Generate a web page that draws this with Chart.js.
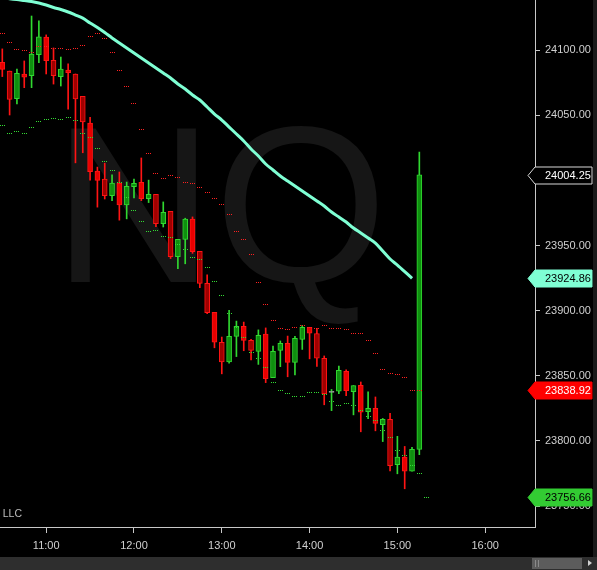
<!DOCTYPE html>
<html lang="en">
<head>
<meta charset="UTF-8">
<title>NQ 5 Minute</title>
<script src="https://cdn.jsdelivr.net/npm/chart.js@4.4.0/dist/chart.umd.min.js"></script>
<style>
    html, body { margin: 0; padding: 0; background: #000; overflow: hidden; }
    #wrap { position: relative; width: 597px; height: 570px; background: #000; }
    #edge { position: absolute; left: 593px; top: 0; width: 4px; height: 557px; background: #1a1a1a; }
    #scroll { position: absolute; left: 0; top: 557px; width: 597px; height: 13px; background: #2e2e2e; }
    #thumb { position: absolute; left: 532px; top: 1px; width: 50px; height: 11px; background: #5c5c5c; }
    #thumb i { position: absolute; top: 2px; width: 1px; height: 7px; background: #8a8a8a; }
    #arrow { position: absolute; left: 588px; top: 3px; width: 0; height: 0;
             border-left: 4px solid #cfcfcf; border-top: 3.5px solid transparent; border-bottom: 3.5px solid transparent; }
</style>
</head>
<body>
<div id="wrap">
    <canvas id="nq" width="597" height="570"></canvas>
    <div id="edge"></div>
    <div id="scroll"><div id="thumb"><i style="left:3px"></i><i style="left:6px"></i></div><div id="arrow"></div></div>
</div>

<script>
// 5 minute bars, first bar at 10:30
const firstBar = '10:30';
const barMinutes = 5;
const hourLabels = ['11:00', '12:00', '13:00', '14:00', '15:00', '16:00'];
const priceTicks = [23750, 23800, 23850, 23900, 23950, 24000, 24050, 24100];

const opens = [24090.75, 24084, 24062.75, 24081.75, 24080.5, 24096.5, 24110, 24092.25, 24079.75, 24084.75,
    24081.75, 24064.5, 24044, 24007.25, 24001, 23988.25, 23998, 23981.25, 23995.25, 23998.5,
    23986, 23989.25, 23966.75, 23976.25, 23941.5, 23954.75, 23970.25, 23945.5, 23921, 23898.75,
    23875.75, 23860.75, 23880.25, 23888, 23877.25, 23868.75, 23882, 23848.5, 23869.5, 23875,
    23860.25, 23878, 23887.25, 23882.5, 23863.5, 23837.25, 23838.25, 23853.5, 23837.75, 23842.75,
    23822.5, 23825, 23812.5, 23816.5, 23781.75, 23787.5, 23776.75, 23793.5];
const highs = [24101, 24084, 24085.5, 24091.75, 24126.25, 24122.5, 24111.75, 24101.75, 24094.75, 24089.5,
    24081.75, 24064.5, 24048.5, 24010.25, 24013.25, 24004.25, 24006.5, 23998.75, 24001, 24017.25,
    24000.25, 23989.25, 23983.5, 23976.25, 23954.75, 23971, 23972, 23945.5, 23927.5, 23898.75,
    23879.75, 23900.25, 23892, 23891.25, 23878, 23885.25, 23886.75, 23872.75, 23876.75, 23880.5,
    23880.25, 23888.75, 23887.25, 23886.5, 23865.25, 23839.5, 23857.5, 23854.5, 23842.5, 23845.25,
    23837.75, 23833.75, 23817.25, 23821.25, 23803.5, 23795.75, 23795, 24021.75];
const lows = [24079.75, 24050.25, 24058.75, 24071.25, 24071.25, 24090.5, 24081.75, 24074, 24072.5, 24054.75,
    24013.5, 24021.25, 24000.25, 23979.5, 23985.75, 23984.5, 23969.5, 23970.5, 23986.5, 23984.5,
    23983, 23964.5, 23964.25, 23940, 23932.25, 23936, 23944, 23917.75, 23897.75, 23871.5,
    23851.5, 23859.75, 23864.75, 23869.25, 23862.25, 23858.75, 23844.75, 23848.5, 23857, 23849.25,
    23850.75, 23870.25, 23863, 23857.25, 23827.75, 23823.25, 23836.25, 23834.75, 23820, 23807,
    23817, 23807.75, 23799.5, 23777, 23774.75, 23763.25, 23776.75, 23789.5];
const closes = [24085.25, 24062.25, 24082.25, 24079.25, 24097, 24110.25, 24092, 24080.5, 24085.5, 24082.75,
    24062.5, 24045, 24006.75, 24000, 23988.25, 23998, 23981.25, 23995.5, 23997.75, 23986,
    23989.25, 23966.75, 23975.5, 23941.5, 23954.75, 23970.25, 23945.25, 23921, 23898.5, 23875.75,
    23860.75, 23880.25, 23888, 23877.25, 23869.5, 23881, 23847.75, 23868.75, 23875, 23860.25,
    23878.75, 23887.25, 23882.75, 23863.5, 23836.25, 23837.25, 23854.25, 23838.5, 23842.5, 23822,
    23825, 23813.5, 23816.5, 23781, 23787.5, 23776.75, 23793.5, 24004.25];

// moving average (aqua line)
const maValues = [24140.3, 24139.55, 24138.85, 24138.15, 24137.4, 24136.25, 24134.7, 24132.8, 24131.25, 24129.35,
    24127, 24124.6, 24120.9, 24117.45, 24113.6, 24109.4, 24105.5, 24101.7, 24097.85, 24094,
    24090.2, 24086.35, 24082.5, 24078.65, 24074.05, 24070.2, 24065.6, 24061.75, 24056.4, 24051,
    24046.4, 24041, 24035.65, 24030.3, 24024.15, 24018.75, 24012.6, 24008, 24003.4, 23999.55,
    23995.7, 23991.9, 23988.05, 23984.2, 23980.35, 23975.75, 23971.9, 23968.1, 23963.45, 23959.65,
    23955.8, 23951.95, 23945.8, 23939.65, 23935.05, 23930.05, 23924.86];

// upper band (red dots)
const upperBand = [24113, 24106.05, 24100.7, 24099.9, 24098.4, 24103, 24103.2, 24101.45, 24101.45, 24100.7,
    24101.45, 24103.75, 24110.65, 24113, 24109.15, 24098.6, 24084.8, 24071.75, 24059.25, 24039.25,
    24020.85, 24005.5, 24001.65, 24003.95, 24002.4, 23998.55, 23997.8, 23994.75, 23990.9, 23986.5,
    23981.65, 23974, 23960.95, 23954.8, 23943.3, 23921.8, 23904.9, 23892.6, 23886.45, 23885.7,
    23887.2, 23888.75, 23886.9, 23886.45, 23888.75, 23886.45, 23886.45, 23885.7, 23882.6, 23882.6,
    23877.25, 23867.25, 23854.95, 23851.9, 23851.15, 23848.85, 23838.85, 23838.92];

// lower band (green dots)
const lowerBand = [24042.35, 24036.2, 24037.75, 24036.2, 24040.8, 24045.4, 24046.95, 24047.7, 24046.95, 24048.5,
    24046.15, 24036.2, 24033.1, 24024.65, 24014.7, 24007.8, 23998.55, 23987.05, 23977.05, 23968.6,
    23960.95, 23961.7, 23957.1, 23956.35, 23950.95, 23947.1, 23940.95, 23939.45, 23933.3, 23922.55,
    23911.8, 23897.95, 23886.7, 23879.55, 23868.05, 23863.4, 23856.5, 23845, 23838.85, 23836.55,
    23834.25, 23834.25, 23837.3, 23837.3, 23835.8, 23830.4, 23827.35, 23828.85, 23827.35, 23823.5,
    23818.9, 23815.8, 23808.15, 23802.75, 23792.8, 23788.95, 23781.25, 23775.1, 23756.66];

// red bars drawn with the darker body
const darkBodies = [1, 7, 10, 11, 14, 21, 23, 27, 28, 30, 34, 43, 44, 53];

const UP = '#30d830', UP_FILL = '#0f8f0f';
const DOWN = '#ff1414', DOWN_FILL = '#e80000', DOWN_DARK = '#a00000';
const DOJI = '#9a9a9a';

function toMin(t) { const p = t.split(':'); return +p[0] * 60 + +p[1]; }
const hourIdx = hourLabels.map(t => (toMin(t) - toMin(firstBar)) / barMinutes);

function dotImage(color) {
    const c = document.createElement('canvas');
    c.width = 5; c.height = 1;
    const g = c.getContext('2d');
    g.fillStyle = color;
    for (let k = 0; k < 5; k += 2) g.fillRect(k, 0, 1, 1);
    return c;
}

const wickData = highs.map((h, i) => ({ x: i, y: [lows[i], h] }));
const bodyData = opens.map((o, i) => ({ x: i, y: [o, closes[i]] }));
const dirColor = i => closes[i] > opens[i] ? UP : (closes[i] < opens[i] ? DOWN : DOJI);

const markers = [
    { value: closes[closes.length - 1], fill: '#000', stroke: '#d8d8d8', text: '#fff' },
    { value: maValues[maValues.length - 1], fill: '#7fffd4', stroke: '#7fffd4', text: '#000' },
    { value: upperBand[upperBand.length - 1], fill: '#ff0000', stroke: '#ff0000', text: '#fff' },
    { value: lowerBand[lowerBand.length - 1], fill: '#33cc33', stroke: '#33cc33', text: '#000' }
];

const decor = {
    id: 'decor',
    beforeDatasetsDraw(chart) {
        const { ctx, chartArea } = chart;
        ctx.save();
        ctx.beginPath();
        ctx.rect(chartArea.left, chartArea.top, chartArea.right - chartArea.left, chartArea.bottom - chartArea.top);
        ctx.clip();
        ctx.fillStyle = '#161616';
        ctx.font = '223px "Liberation Sans", Arial, sans-serif';
        ctx.textBaseline = 'alphabetic';
        ctx.fillText('NQ', 53, 282);
        ctx.fillStyle = '#bdbdbd';
        ctx.font = '10.5px "Liberation Sans", Arial, sans-serif';
        ctx.textAlign = 'right';
        ctx.fillText('\u00a9 2025 NinjaTrader, LLC', 22, 517);
        ctx.restore();
        ctx.imageSmoothingEnabled = false;
    },
    afterDraw(chart) {
        const { ctx } = chart;
        const y = chart.scales.y;
        const x0 = y.left;
        ctx.save();
        ctx.font = '11px "Liberation Sans", Arial, sans-serif';
        ctx.textBaseline = 'middle';
        markers.forEach(m => {
            const py = Math.round(y.getPixelForValue(m.value)) + 0.5;
            ctx.beginPath();
            ctx.moveTo(x0 - 7, py);
            ctx.lineTo(x0, py - 8.5);
            ctx.lineTo(592, py - 8.5);
            ctx.lineTo(592, py + 8.5);
            ctx.lineTo(x0, py + 8.5);
            ctx.closePath();
            ctx.fillStyle = m.fill;
            ctx.fill();
            ctx.strokeStyle = m.stroke;
            ctx.lineWidth = 1;
            ctx.stroke();
            ctx.fillStyle = m.text;
            ctx.fillText(m.value.toFixed(2), x0 + 10, py + 0.5);
        });
        ctx.restore();
    }
};

new Chart(document.getElementById('nq'), {
    type: 'bar',
    data: {
        datasets: [
            {
                type: 'line',
                data: maValues.map((v, i) => ({ x: i, y: v })),
                borderColor: '#7fffd4',
                borderWidth: 3,
                pointRadius: 0,
                tension: 0.3,
                order: 0
            },
            {
                type: 'line',
                data: upperBand.map((v, i) => ({ x: i, y: v })),
                showLine: false,
                pointStyle: dotImage('#ff2020'),
                pointRadius: 3,
                order: 1
            },
            {
                type: 'line',
                data: lowerBand.map((v, i) => ({ x: i, y: v })),
                showLine: false,
                pointStyle: dotImage('#33dd33'),
                pointRadius: 3,
                order: 1
            },
            {
                data: bodyData,
                grouped: false,
                barThickness: 5,
                minBarLength: 1,
                borderWidth: 1,
                borderSkipped: false,
                borderColor: bodyData.map((d, i) => dirColor(i)),
                backgroundColor: bodyData.map((d, i) => closes[i] > opens[i] ? UP_FILL
                    : (closes[i] < opens[i] ? (darkBodies.includes(i) ? DOWN_DARK : DOWN_FILL) : DOJI)),
                order: 2
            },
            {
                data: wickData,
                grouped: false,
                barThickness: 1,
                borderWidth: 0,
                backgroundColor: wickData.map((d, i) => closes[i] >= opens[i] ? UP : DOWN),
                order: 3
            }
        ]
    },
    options: {
        responsive: false,
        devicePixelRatio: 1,
        animation: false,
        layout: { padding: 0, autoPadding: false },
        plugins: { legend: { display: false }, tooltip: { enabled: false } },
        scales: {
            x: {
                type: 'linear',
                offset: false,
                min: -0.314,
                max: 72.81,
                afterBuildTicks: s => { s.ticks = hourIdx.map(v => ({ value: v })); },
                afterFit: s => { s.height = 43; s.paddingLeft = 0; s.paddingRight = 0; },
                grid: { drawOnChartArea: false, offset: false, color: '#c8c8c8', tickLength: 6 },
                border: { color: '#c8c8c8', width: 1 },
                ticks: {
                    color: '#d0d0d0',
                    font: { family: '"Liberation Sans", Arial, sans-serif', size: 11 },
                    padding: 6,
                    autoSkip: false,
                    maxRotation: 0,
                    callback: (v, i) => hourLabels[i]
                }
            },
            y: {
                position: 'right',
                min: 23733.9,
                max: 24138.55,
                afterBuildTicks: s => { s.ticks = priceTicks.map(v => ({ value: v })); },
                afterFit: s => { s.width = 62; s.paddingTop = 0; s.paddingBottom = 0; },
                grid: { drawOnChartArea: false, color: '#c8c8c8', tickLength: 5 },
                border: { color: '#c8c8c8', width: 1 },
                ticks: {
                    color: '#d0d0d0',
                    font: { family: '"Liberation Sans", Arial, sans-serif', size: 11 },
                    padding: 5,
                    callback: v => v.toFixed(2)
                }
            }
        }
    },
    plugins: [decor]
});
</script>
</body>
</html>
